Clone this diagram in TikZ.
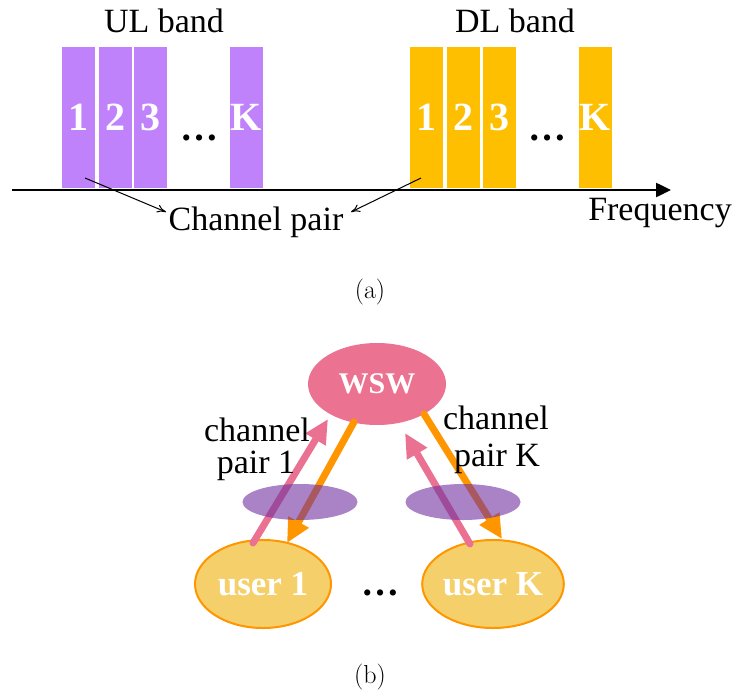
\documentclass[tikz,border=0pt]{standalone}
\usepackage{fontspec}
\newfontfamily\tnr{Liberation Serif}
\usetikzlibrary{arrows.meta,shapes.geometric}
\definecolor{ulc}{HTML}{BF82FB}
\definecolor{dlc}{HTML}{FDBF00}
\definecolor{wswc}{HTML}{EB7290}
\definecolor{userc}{HTML}{F5CF6A}
\definecolor{userb}{HTML}{FF9600}
\definecolor{pinkarr}{HTML}{EA7192}
\definecolor{orarr}{HTML}{FF9600}
\definecolor{pairc}{HTML}{7030A0}
\tikzset{
  barbox/.style={rectangle, minimum width=33pt, minimum height=141pt, inner sep=0pt, text=white,
    font=\tnr\bfseries\fontsize{40}{40}\selectfont},
  ulbar/.style={barbox, fill=ulc},
  dlbar/.style={barbox, fill=dlc},
  lbl/.style={font=\tnr\fontsize{34}{38}\selectfont, inner sep=0pt},
  dotsl/.style={font=\tnr\bfseries\fontsize{38}{38}\selectfont, inner sep=0pt},
  figcap/.style={font=\fontsize{26}{28}\selectfont, inner sep=0pt},
  thinarr/.style={-{To[length=9pt,width=8pt]}, line width=1pt},
  fat/.style={line width=7pt, -{Triangle[length=24pt,width=22pt]}},
  userell/.style={ellipse, fill=userc, draw=userb, line width=2pt, minimum width=136pt, minimum height=88pt,
    text=white, font=\tnr\bfseries\fontsize{35}{35}\selectfont, inner sep=0pt},
  pairell/.style={ellipse, fill=pairc, fill opacity=0.6, minimum width=115pt, minimum height=36pt, inner sep=0pt}
}
\begin{document}
\begin{tikzpicture}[x=1pt,y=-1pt]
\useasboundingbox (0,0) rectangle (733,696);
% (a)
\node[lbl] (ul) at (164,21) {UL band};
\node[lbl] (dl) at (515,21) {DL band};
\node[ulbar] (u1) at (78.5,117.5) {1};
\node[ulbar] (u2) at (115,117.5) {2};
\node[ulbar] (u3) at (150.5,117.5) {3};
\node[ulbar] (uk) at (246.5,117.5) {K};
\node[dlbar] (d1) at (426.5,117.5) {1};
\node[dlbar] (d2) at (463,117.5) {2};
\node[dlbar] (d3) at (499,117.5) {3};
\node[dlbar] (dk) at (595,117.5) {K};
\node[dotsl] (udots) at (199,138) {…};
\node[dotsl] (ddots) at (547,138) {…};
\coordinate (axs) at (12,190);
\coordinate (axe) at (671,190);
\draw[line width=2.5pt, -{Triangle[length=15pt,width=14pt]}] (axs) -- (axe);
\node[lbl] (freq) at (660,213) {Frequency};
\node[lbl] (cp) at (256,222) {Channel pair};
\coordinate (p1) at (85,178);
\coordinate (p1e) at (166,212);
\coordinate (p2) at (421,178);
\coordinate (p2e) at (351,212);
\draw[thinarr] (p1) -- (p1e);
\draw[thinarr] (p2) -- (p2e);
\node[figcap] (capa) at (370,292) {(a)};
% (b)
\node[ellipse, fill=wswc, minimum width=138pt, minimum height=82pt, inner sep=0pt, text=white,
  font=\tnr\bfseries\fontsize{30}{30}\selectfont] (wsw) at (377,384) {WSW};
\node[userell] (user1) at (263,584) {user 1};
\node[userell] (userk) at (493,584) {user K};
\node[dotsl] (bdots) at (380,593) {…};
\coordinate (a1s) at (253,543);
\coordinate (a1e) at (328,419);
\coordinate (b1s) at (354,422);
\coordinate (b1e) at (287,543);
\coordinate (aks) at (470,544);
\coordinate (ake) at (405,433);
\coordinate (bks) at (424,414);
\coordinate (bke) at (502,539);
\draw[fat, pinkarr, line cap=round] (a1s) -- (a1e);
\draw[fat, orarr, line cap=round] (b1s) -- (b1e);
\draw[fat, pinkarr, line cap=round] (aks) -- (ake);
\draw[fat, orarr, line cap=round] (bks) -- (bke);
\node[pairell] (pair1) at (300,502) {};
\node[pairell] (pairk) at (463,502) {};
\node[lbl] (cp1a) at (257,430) {channel};
\node[lbl] (cp1b) at (256,466) {pair 1};
\node[lbl] (cpka) at (496,418) {channel};
\node[lbl] (cpkb) at (497,459) {pair K};
\node[figcap] (capb) at (370,677) {(b)};
\end{tikzpicture}
\end{document}
